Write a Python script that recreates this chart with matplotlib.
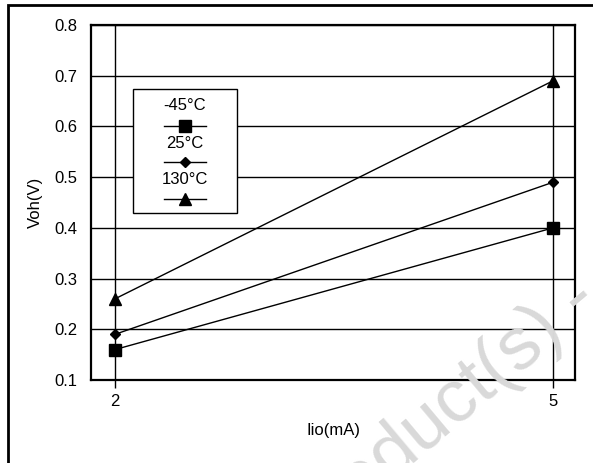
## Voh vs Iio at three temperatures

import matplotlib.pyplot as plt
from matplotlib.patches import Rectangle

plt.rcParams['font.family'] = ['Liberation Sans', 'DejaVu Sans']

# data
iio      = [2, 5]
temps    = ['-45°C', '25°C', '130°C']
voh_m45  = [0.16, 0.40]
voh_25   = [0.19, 0.49]
voh_130  = [0.26, 0.69]
yticks   = [0.1, 0.2, 0.3, 0.4, 0.5, 0.6, 0.7, 0.8]

series  = [voh_m45, voh_25, voh_130]
markers = ['s', 'D', '^']
msizes  = [8.5, 5, 8]

fig = plt.figure(figsize=(5.93, 4.63), dpi=100)
ax = fig.add_axes([91/593, 1 - 380/463, (575-91)/593, (380-25)/463])

# outer frame of the figure box
fig.patches.append(Rectangle((8/593, -0.1), 1.2, 1.1 - 5/463, transform=fig.transFigure,
                             fill=False, lw=2, ec='k', zorder=0))

# watermark
fig.text(0.74, 0.10, 'Product(s) -', fontsize=54, color='#d9d9d9', rotation=40,
         ha='center', va='center', zorder=0)

for y, m, ms in zip(series, markers, msizes):
    ax.plot(iio, y, color='k', lw=1, marker=m, ms=ms, zorder=3)

ax.set_xlim(1.836, 5.15)
ax.set_ylim(0.1, 0.8)
ax.set_xticks(iio)
ax.set_yticks(yticks)
ax.set_yticklabels(['%.1f' % v for v in yticks])
ax.grid(True, color='k', lw=1)
ax.tick_params(axis='x', direction='out', length=6, width=1, labelsize=12, pad=4)
ax.tick_params(axis='y', length=0, labelsize=12, pad=10)
for s in ax.spines.values():
    s.set_linewidth(1.6)
ax.patch.set_alpha(0)

ax.set_xlabel('Iio(mA)', fontsize=12, labelpad=10)
ax.set_ylabel('Voh(V)', fontsize=12, labelpad=8)

# legend box drawn by hand: label above a line sample
lx0, lx1 = (133-91)/484, (237-91)/484
ly0, ly1 = (380-213)/355, (380-89)/355
ax.add_patch(Rectangle((lx0, ly0), lx1 - lx0, ly1 - ly0, transform=ax.transAxes,
                       fc='white', ec='k', lw=1, zorder=5))
xc = (lx0 + lx1) / 2
text_y = [105, 144, 180]
mark_y = [126, 162, 199]
for t, m, ms, ty, my in zip(temps, markers, msizes, text_y, mark_y):
    ty = (380 - ty) / 355
    my = (380 - my) / 355
    ax.text(xc, ty, t, transform=ax.transAxes, ha='center', va='center',
            fontsize=12, zorder=6)
    ax.plot([xc - 0.043, xc + 0.043], [my, my], transform=ax.transAxes,
            color='k', lw=1, zorder=6)
    ax.plot([xc], [my], transform=ax.transAxes, color='k', marker=m, ms=ms, zorder=7)

fig.savefig('out.png', dpi=100)
